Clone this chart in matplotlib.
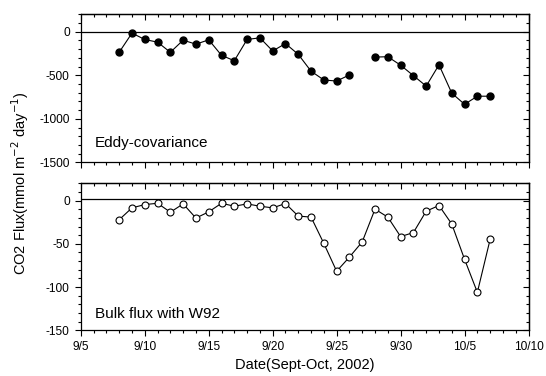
import numpy as np
import matplotlib
matplotlib.use('Agg')
import matplotlib.pyplot as plt
from matplotlib.ticker import MultipleLocator, FixedLocator, FixedFormatter

plt.rcParams['font.family'] = ['Liberation Sans', 'DejaVu Sans']
plt.rcParams['axes.unicode_minus'] = False

# daily dates, Sept 8 - Oct 7 2002
dates = ['9/8', '9/9', '9/10', '9/11', '9/12', '9/13', '9/14', '9/15', '9/16', '9/17',
         '9/18', '9/19', '9/20', '9/21', '9/22', '9/23', '9/24', '9/25', '9/26', '9/27',
         '9/28', '9/29', '9/30', '10/1', '10/2', '10/3', '10/4', '10/5', '10/6', '10/7']

# eddy covariance flux (no value on 9/27)
eddy_flux = [-236, -16, -89, -120, -236, -97, -143, -93, -271, -333,
             -89, -70, -221, -136, -260, -453, -554, -566, -496, np.nan,
             -291, -287, -384, -504, -624, -380, -705, -833, -740, -740]

# bulk flux with W92
bulk_flux = [-22.1, -8.4, -4.6, -3.1, -13.4, -3.8, -20.2, -13.0, -3.1, -6.5,
             -3.8, -6.5, -8.4, -3.4, -17.9, -19.1, -49.6, -81.7, -65.3, -47.7,
             -9.9, -19.1, -41.6, -37.0, -12.2, -5.7, -27.1, -67.9, -106.1, -44.7]

xtick_labels = ['9/5', '9/10', '9/15', '9/20', '9/25', '9/30', '10/5', '10/10']


def to_day(s):
    # days counted from Sept 0, so Oct 1 -> 31
    m, d = s.split('/')
    return int(d) + (30 if m == '10' else 0)


x = np.array([to_day(d) for d in dates])
xticks = [to_day(d) for d in xtick_labels]

fig = plt.figure(figsize=(5.46, 3.76), dpi=100)
ax1 = fig.add_axes([0.148, 0.568, 0.820, 0.394])
ax2 = fig.add_axes([0.148, 0.1215, 0.820, 0.391])


def style_axis(ax, ylim, ymaj, ymin, show_xlabels):
    ax.set_xlim(5, 40)
    ax.set_ylim(*ylim)
    ax.xaxis.set_major_locator(FixedLocator(xticks))
    ax.xaxis.set_minor_locator(MultipleLocator(1))
    ax.yaxis.set_major_locator(MultipleLocator(ymaj))
    ax.yaxis.set_minor_locator(MultipleLocator(ymin))
    if show_xlabels:
        ax.xaxis.set_major_formatter(FixedFormatter(xtick_labels))
    else:
        ax.tick_params(axis='x', labelbottom=False)
    ax.tick_params(which='major', direction='out', length=4.5, width=0.8, labelsize=8.6)
    ax.tick_params(which='minor', direction='out', length=2.2, width=0.8)
    for sp in ax.spines.values():
        sp.set_linewidth(0.9)
    # mirrored ticks pointing inward on top and right
    top = ax.secondary_xaxis('top')
    top.xaxis.set_major_locator(FixedLocator(xticks))
    top.xaxis.set_minor_locator(MultipleLocator(1))
    top.tick_params(which='major', direction='in', length=4.5, width=0.8, labeltop=False)
    top.tick_params(which='minor', direction='in', length=2.2, width=0.8)
    top.spines['top'].set_linewidth(0.9)
    right = ax.secondary_yaxis('right')
    right.yaxis.set_major_locator(MultipleLocator(ymaj))
    right.yaxis.set_minor_locator(MultipleLocator(ymin))
    right.tick_params(which='major', direction='in', length=4.5, width=0.8, labelright=False)
    right.tick_params(which='minor', direction='in', length=2.2, width=0.8)
    right.spines['right'].set_linewidth(0.9)


ax1.axhline(0, color='black', lw=0.9)
ax1.plot(x, eddy_flux, color='black', lw=0.8, marker='o', markersize=5,
         markerfacecolor='black', markeredgecolor='black')
style_axis(ax1, (-1500, 200), 500, 100, False)
ax1.text(0.032, 0.132, 'Eddy-covariance', transform=ax1.transAxes,
         fontsize=11, va='center', ha='left')

ax2.axhline(2, color='black', lw=0.9)
ax2.plot(x, bulk_flux, color='black', lw=0.8, marker='o', markersize=5,
         markerfacecolor='white', markeredgecolor='black', markeredgewidth=0.8)
style_axis(ax2, (-150, 20), 50, 10, True)
ax2.text(0.032, 0.109, 'Bulk flux with W92', transform=ax2.transAxes,
         fontsize=11, va='center', ha='left')
ax2.set_xlabel('Date(Sept-Oct, 2002)', fontsize=10.5, labelpad=3)

fig.text(0.036, 0.513, 'CO2 Flux(mmol m$^{-2}$ day$^{-1}$)', rotation=90,
         fontsize=10.5, va='center', ha='center')

fig.savefig('out.png', dpi=100)
